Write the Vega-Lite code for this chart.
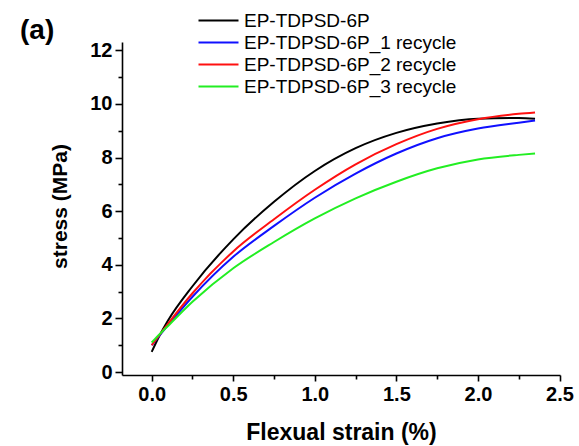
{
  "$schema": "https://vega.github.io/schema/vega-lite/v6.json",
  "autosize": "none",
  "width": 438,
  "height": 333,
  "padding": {"left": 122, "top": 42, "right": 19, "bottom": 71},
  "background": "white",
  "config": {
    "view": {"stroke": null},
    "font": "Liberation Sans"
  },
  "title": {"text": "(a)", "anchor": "start", "frame": "group", "dx": -102, "dy": 0, "fontSize": 28, "fontWeight": "bold", "color": "black", "offset": -64, "baseline": "bottom"},
  "data": {
    "values": [
      {"s": "EP-TDPSD-6P", "x": 0, "y": 0.75}, {"s": "EP-TDPSD-6P", "x": 0.05, "y": 1.38}, {"s": "EP-TDPSD-6P", "x": 0.1, "y": 1.92}, {"s": "EP-TDPSD-6P", "x": 0.25, "y": 3.2}, {"s": "EP-TDPSD-6P", "x": 0.5, "y": 4.95}, {"s": "EP-TDPSD-6P", "x": 0.75, "y": 6.35}, {"s": "EP-TDPSD-6P", "x": 1.0, "y": 7.5}, {"s": "EP-TDPSD-6P", "x": 1.25, "y": 8.35}, {"s": "EP-TDPSD-6P", "x": 1.5, "y": 8.92}, {"s": "EP-TDPSD-6P", "x": 1.75, "y": 9.27}, {"s": "EP-TDPSD-6P", "x": 2.0, "y": 9.45}, {"s": "EP-TDPSD-6P", "x": 2.25, "y": 9.48}, {"s": "EP-TDPSD-6P", "x": 2.35, "y": 9.45},

      {"s": "EP-TDPSD-6P_1 recycle", "x": 0, "y": 1.0}, {"s": "EP-TDPSD-6P_1 recycle", "x": 0.05, "y": 1.38}, {"s": "EP-TDPSD-6P_1 recycle", "x": 0.1, "y": 1.75}, {"s": "EP-TDPSD-6P_1 recycle", "x": 0.25, "y": 2.81}, {"s": "EP-TDPSD-6P_1 recycle", "x": 0.5, "y": 4.3}, {"s": "EP-TDPSD-6P_1 recycle", "x": 0.75, "y": 5.45}, {"s": "EP-TDPSD-6P_1 recycle", "x": 1.0, "y": 6.5}, {"s": "EP-TDPSD-6P_1 recycle", "x": 1.25, "y": 7.4}, {"s": "EP-TDPSD-6P_1 recycle", "x": 1.5, "y": 8.15}, {"s": "EP-TDPSD-6P_1 recycle", "x": 1.75, "y": 8.72}, {"s": "EP-TDPSD-6P_1 recycle", "x": 2.0, "y": 9.08}, {"s": "EP-TDPSD-6P_1 recycle", "x": 2.25, "y": 9.3}, {"s": "EP-TDPSD-6P_1 recycle", "x": 2.35, "y": 9.38},

      {"s": "EP-TDPSD-6P_2 recycle", "x": 0, "y": 1.0}, {"s": "EP-TDPSD-6P_2 recycle", "x": 0.05, "y": 1.4}, {"s": "EP-TDPSD-6P_2 recycle", "x": 0.1, "y": 1.8}, {"s": "EP-TDPSD-6P_2 recycle", "x": 0.25, "y": 2.94}, {"s": "EP-TDPSD-6P_2 recycle", "x": 0.5, "y": 4.5}, {"s": "EP-TDPSD-6P_2 recycle", "x": 0.75, "y": 5.7}, {"s": "EP-TDPSD-6P_2 recycle", "x": 1.0, "y": 6.8}, {"s": "EP-TDPSD-6P_2 recycle", "x": 1.25, "y": 7.75}, {"s": "EP-TDPSD-6P_2 recycle", "x": 1.5, "y": 8.5}, {"s": "EP-TDPSD-6P_2 recycle", "x": 1.75, "y": 9.07}, {"s": "EP-TDPSD-6P_2 recycle", "x": 2.0, "y": 9.43}, {"s": "EP-TDPSD-6P_2 recycle", "x": 2.25, "y": 9.63}, {"s": "EP-TDPSD-6P_2 recycle", "x": 2.35, "y": 9.68},

      {"s": "EP-TDPSD-6P_3 recycle", "x": 0, "y": 1.1}, {"s": "EP-TDPSD-6P_3 recycle", "x": 0.05, "y": 1.42}, {"s": "EP-TDPSD-6P_3 recycle", "x": 0.1, "y": 1.72}, {"s": "EP-TDPSD-6P_3 recycle", "x": 0.25, "y": 2.62}, {"s": "EP-TDPSD-6P_3 recycle", "x": 0.5, "y": 3.87}, {"s": "EP-TDPSD-6P_3 recycle", "x": 0.75, "y": 4.85}, {"s": "EP-TDPSD-6P_3 recycle", "x": 1.0, "y": 5.73}, {"s": "EP-TDPSD-6P_3 recycle", "x": 1.25, "y": 6.48}, {"s": "EP-TDPSD-6P_3 recycle", "x": 1.5, "y": 7.1}, {"s": "EP-TDPSD-6P_3 recycle", "x": 1.75, "y": 7.6}, {"s": "EP-TDPSD-6P_3 recycle", "x": 2.0, "y": 7.93}, {"s": "EP-TDPSD-6P_3 recycle", "x": 2.25, "y": 8.1}, {"s": "EP-TDPSD-6P_3 recycle", "x": 2.35, "y": 8.15}
    ]
  },
  "resolve": {"axis": {"x": "independent", "y": "independent"}},
  "layer": [
    {
      "mark": {"type": "line", "strokeWidth": 2, "interpolate": "monotone"},
      "encoding": {
        "x": {
          "field": "x", "type": "quantitative",
          "scale": {"domain": [-0.182, 2.503], "nice": false, "zero": false},
          "axis": {
            "orient": "bottom",
            "values": [0, 0.5, 1.0, 1.5, 2.0, 2.5],
            "format": ".1f",
            "grid": false,
            "domainColor": "black", "domainWidth": 1.6,
            "tickColor": "black", "tickWidth": 1.6, "tickSize": 6,
            "labelFont": "Liberation Sans", "labelFontSize": 20, "labelFontWeight": "bold", "labelColor": "black", "labelPadding": 3,
            "labelFlush": false, "labelOverlap": false,
            "title": "Flexual strain (%)",
            "titleFont": "Liberation Sans", "titleFontSize": 23, "titleFontWeight": "bold", "titleColor": "black",
            "titleX": 219, "titleY": 57, "titleAlign": "center", "titleBaseline": "middle"
          }
        },
        "y": {
          "field": "y", "type": "quantitative",
          "scale": {"domain": [-0.11, 12.31], "nice": false, "zero": false},
          "axis": {
            "orient": "left",
            "values": [0, 2, 4, 6, 8, 10, 12],
            "grid": false,
            "domainColor": "black", "domainWidth": 1.6,
            "tickColor": "black", "tickWidth": 1.6, "tickSize": 7,
            "labelFont": "Liberation Sans", "labelFontSize": 20, "labelFontWeight": "bold", "labelColor": "black", "labelPadding": 3,
            "labelFlush": false, "labelOverlap": false,
            "title": "stress (MPa)",
            "titleFont": "Liberation Sans", "titleFontSize": 21, "titleFontWeight": "bold", "titleColor": "black",
            "titleX": -62, "titleY": 164, "titleAlign": "center", "titleBaseline": "middle", "titleAngle": -90
          }
        },
        "color": {
          "field": "s", "type": "nominal",
          "scale": {
            "domain": ["EP-TDPSD-6P", "EP-TDPSD-6P_1 recycle", "EP-TDPSD-6P_2 recycle", "EP-TDPSD-6P_3 recycle"],
            "range": ["#000000", "#1010ff", "#ff1010", "#22ee22"]
          },
          "legend": {
            "title": null,
            "orient": "none",
            "legendX": 85,
            "legendY": -33,
            "padding": 0,
            "symbolType": "M-2,0H2",
            "symbolSize": 400,
            "symbolStrokeWidth": 2.2,
            "labelFont": "Liberation Sans",
            "labelFontSize": 19,
            "labelColor": "black",
            "labelOffset": 14,
            "labelLimit": 400,
            "rowPadding": 0
          }
        }
      }
    },
    {
      "mark": {"type": "rule", "strokeWidth": 0},
      "encoding": {
        "x": {"field": "x", "type": "quantitative", "axis": {"orient": "bottom", "values": [0.25, 0.75, 1.25, 1.75, 2.25], "labels": false, "domain": false, "grid": false, "title": null, "tickColor": "black", "tickWidth": 1.6, "tickSize": 4}},
        "y": {"field": "y", "type": "quantitative", "axis": {"orient": "left", "values": [1, 3, 5, 7, 9, 11], "labels": false, "domain": false, "grid": false, "title": null, "tickColor": "black", "tickWidth": 1.6, "tickSize": 4}}
      }
    }
  ]
}
